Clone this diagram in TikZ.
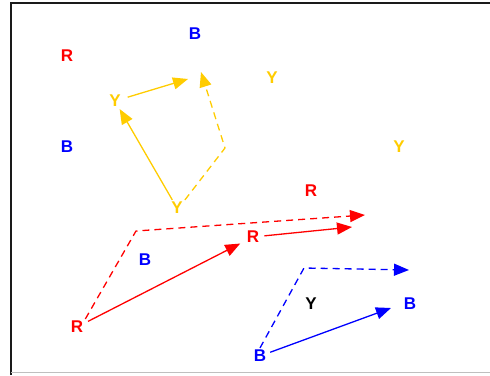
\documentclass[tikz,border=0pt]{standalone}
\usepackage{fontspec}
\setmainfont{Liberation Sans}
\usetikzlibrary{arrows.meta}
\definecolor{cred}{HTML}{FF0000}
\definecolor{cblue}{HTML}{0000FF}
\definecolor{cyel}{HTML}{FFCC00}
\definecolor{cframe}{HTML}{1A1A1A}
\tikzset{
  % bold capital letter in one of the three colours
  ltr/.style  = {font=\fontsize{17}{17}\selectfont\bfseries, text=#1, inner sep=2pt},
  ltr/.default = black,
  arr/.style  = {-{Triangle[length=15pt,width=12pt]}, line width=1.3pt, draw=#1},
  darr/.style = {arr=#1, dash pattern=on 7pt off 5pt},
}

\begin{document}
\begin{tikzpicture}[x=1pt,y=-1pt]
\useasboundingbox (0,0) rectangle (490,375);
% frame
\draw[cframe, line width=2pt] (11,375) -- (11,3) -- (490,3);
\draw[gray!50, line width=1pt] (11,372) -- (490,372);
% letters
\node[ltr=cred]  (r1) at (67,56)   {R};
\node[ltr=cblue] (b1) at (195,34)  {B};
\node[ltr=cyel]  (y1) at (272,78)  {Y};
\node[ltr=cyel]  (y2) at (115,101) {Y};
\node[ltr=cblue] (b2) at (67,147)  {B};
\node[ltr=cyel]  (y3) at (399,147) {Y};
\node[ltr=cred]  (r2) at (311,191) {R};
\node[ltr=cyel]  (y4) at (177,208) {Y};
\node[ltr=cred]  (r3) at (253,237) {R};
\node[ltr=cblue] (b3) at (145,260) {B};
\node[ltr]       (k1) at (311,304) {Y};
\node[ltr=cblue] (b4) at (410,304) {B};
\node[ltr=cred]  (r4) at (77,327)  {R};
\node[ltr=cblue] (b5) at (260,356) {B};
% free ends and bends
\coordinate (yt) at (188,79);
\coordinate (ya) at (225,148);
\coordinate (yb) at (201,72);
\coordinate (ra) at (136,231);
\coordinate (rb) at (365,215);
\coordinate (rt) at (352,227);
\coordinate (ba) at (304,268);
\coordinate (bb) at (409,270);
\coordinate (bt) at (391,308);
% yellow
\draw[arr=cyel] (y4) -- (y2);
\draw[arr=cyel, shorten <=5pt] (y2) -- (yt);
\draw[darr=cyel] (y4.north east) -- (ya) -- (yb);
% red
\draw[darr=cred] (r4.north east) -- (ra) -- (rb);
\draw[arr=cred, shorten <=3pt, shorten >=5pt] (r4) -- (r3);
\draw[arr=cred, shorten <=3pt] (r3) -- (rt);
% blue
\draw[darr=cblue] (b5.north) -- (ba) -- (bb);
\draw[arr=cblue, shorten <=2pt] (b5) -- (bt);
\end{tikzpicture}
\end{document}
